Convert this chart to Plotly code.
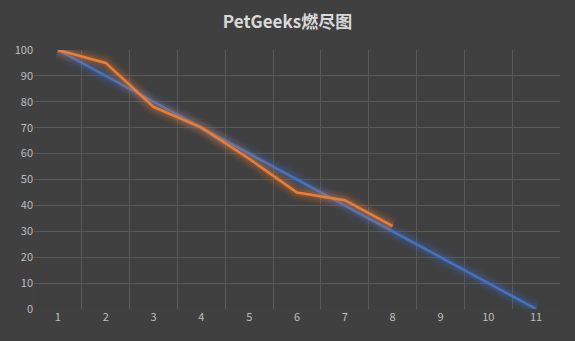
import plotly.graph_objects as go

categories = ["1", "2", "3", "4", "5", "6", "7", "8", "9", "10", "11"]
ideal = [100, 90, 80, 70, 60, 50, 40, 30, 20, 10, 0]
actual = [100, 95, 78, 70, 58, 45, 42, 32]
y_ticks = [0, 10, 20, 30, 40, 50, 60, 70, 80, 90, 100]

BLUE = "68,114,196"
ORANGE = "237,125,49"
BG = "#404040"

fig = go.Figure()

def add_glow(x, y, rgb):
    for w, a in [(18, 0.05), (14, 0.07), (10, 0.1), (6, 0.16)]:
        fig.add_trace(go.Scatter(x=x, y=y, mode="lines",
                                 line=dict(color=f"rgba({rgb},{a})", width=w),
                                 hoverinfo="skip", showlegend=False))

add_glow(categories, ideal, BLUE)
fig.add_trace(go.Scatter(x=categories, y=ideal, mode="lines",
                         line=dict(color=f"rgb({BLUE})", width=2.5),
                         showlegend=False, name="理想"))
add_glow(categories[:len(actual)], actual, ORANGE)
fig.add_trace(go.Scatter(x=categories[:len(actual)], y=actual, mode="lines",
                         line=dict(color=f"rgb({ORANGE})", width=2.5),
                         showlegend=False, name="实际"))

# fading of gridlines near the bottom
for top, op in [(4, 0.5), (8, 0.35), (13, 0.25), (20, 0.15)]:
    fig.add_shape(type="rect", xref="paper", yref="y", x0=0, x1=1, y0=0, y1=top,
                  fillcolor=BG, opacity=op, line_width=0, layer="between")

fig.update_layout(
    width=575, height=341,
    paper_bgcolor=BG, plot_bgcolor=BG,
    margin=dict(l=34, r=15, t=50, b=32),
    title=dict(text="<b>PetGeeks燃尽图</b>", x=0.5, xanchor="center", y=0.935, yanchor="middle",
               font=dict(family="Noto Sans CJK SC, sans-serif", size=17, color="#d9d9d9")),
    font=dict(family="Noto Sans CJK SC, sans-serif", size=11, color="#bfbfbf"),
    xaxis=dict(type="category", categoryorder="array", categoryarray=categories,
               tickson="boundaries", showgrid=True, gridcolor="#595959", gridwidth=1,
               range=[-0.5, 10.5], ticks="", showline=False,
               tickfont=dict(size=11, color="#bfbfbf"), zeroline=False),
    yaxis=dict(range=[0, 100], tickvals=y_ticks, showgrid=True, gridcolor="#595959",
               gridwidth=1, zeroline=False, ticks="", showline=False,
               tickfont=dict(size=11, color="#bfbfbf")),
)

fig.write_html("out.html")
